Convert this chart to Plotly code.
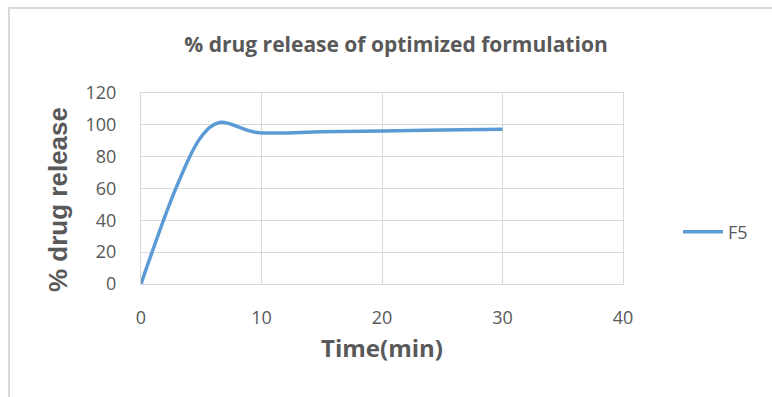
import plotly.graph_objects as go

time_min = [0, 3, 5, 6.5, 9.5, 15, 20, 25, 30]
release_f5 = [0, 62, 92.5, 101.5, 95.4, 95.6, 96.2, 96.8, 97.3]
x_ticks = [0, 10, 20, 30, 40]
y_ticks = [0, 20, 40, 60, 80, 100, 120]

fig = go.Figure()
fig.add_trace(go.Scatter(
    x=time_min, y=release_f5, mode="lines", name="F5",
    line=dict(color="#5b9bd5", width=3.5, shape="spline", smoothing=1.0),
))

grid = "#d9d9d9"
tick_font = dict(family="Open Sans, sans-serif", size=18, color="#595959")
fig.update_layout(
    width=772, height=397,
    margin=dict(l=141, r=149, t=93, b=113),
    paper_bgcolor="white", plot_bgcolor="white",
    title=dict(text="<b>% drug release of optimized formulation</b>", x=396 / 772, xanchor="center",
               y=1 - 45 / 397, yref="container", yanchor="middle",
               font=dict(family="Open Sans, sans-serif", size=21, color="#595959")),
    legend=dict(x=(678 - 141) / 482, y=1 - (232 - 93) / 191, xref="paper", yref="paper", yanchor="middle",
                xanchor="left", font=dict(family="Open Sans, sans-serif", size=18, color="#595959"),
                bgcolor="rgba(0,0,0,0)", itemwidth=40),
    showlegend=True,
)
fig.update_xaxes(range=[0, 40], tickvals=x_ticks, showgrid=True, gridcolor=grid, gridwidth=1,
                 showline=True, linecolor=grid, mirror=True, zeroline=False,
                 ticks="outside", ticklen=17, tickcolor="rgba(0,0,0,0)", tickfont=tick_font,
                 title=dict(text="<b>Time(min)</b>", standoff=12,
                            font=dict(family="Open Sans, sans-serif", size=24, color="#595959")))
fig.update_yaxes(range=[0, 120], tickvals=y_ticks, showgrid=True, gridcolor=grid, gridwidth=1,
                 showline=True, linecolor=grid, mirror=True, zeroline=False,
                 ticks="outside", ticklen=20, tickcolor="rgba(0,0,0,0)", tickfont=tick_font)
fig.add_annotation(text="<b>% drug release</b>", xref="paper", yref="paper",
                   x=(58 - 141) / 482, y=(284 - 200) / 191, textangle=-90, showarrow=False,
                   xanchor="center", yanchor="middle",
                   font=dict(family="Liberation Sans, Arial, sans-serif", size=26, color="#595959"))
fig.add_shape(type="rect", xref="paper", yref="paper",
              x0=-132 / 482, x1=(782 - 141) / 482, y0=-(420 - 284) / 191, y1=(284 - 8) / 191,
              line=dict(color="#d9d9d9", width=2), fillcolor="rgba(0,0,0,0)", layer="below")
fig.write_html("out.html")
